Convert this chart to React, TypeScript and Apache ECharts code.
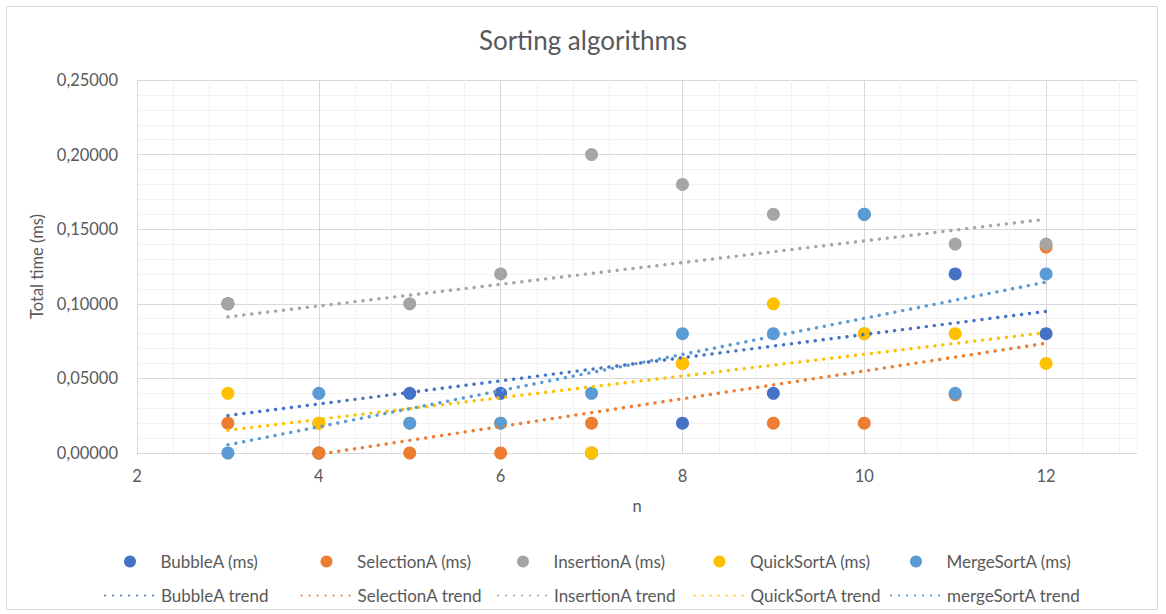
import React, { useEffect, useRef } from "react";
import * as echarts from "echarts";

// ---- data ----
const nValues = [3, 4, 5, 6, 7, 8, 9, 10, 11, 12];
const bubbleMs = [0.1, 0.0, 0.04, 0.04, 0.0, 0.02, 0.04, 0.16, 0.12, 0.08];
const selectionMs = [0.02, 0.0, 0.0, 0.0, 0.02, 0.06, 0.02, 0.02, 0.039, 0.138];
const insertionMs = [0.1, 0.02, 0.1, 0.12, 0.2, 0.18, 0.16, 0.08, 0.14, 0.14];
const quickSortMs = [0.04, 0.02, 0.02, 0.02, 0.0, 0.06, 0.1, 0.08, 0.08, 0.06];
const mergeSortMs = [0.0, 0.04, 0.02, 0.02, 0.04, 0.08, 0.08, 0.16, 0.04, 0.12];

const pointNames = ["BubbleA (ms)", "SelectionA (ms)", "InsertionA (ms)", "QuickSortA (ms)", "MergeSortA (ms)"];
const trendNames = ["BubbleA trend", "SelectionA trend", "InsertionA trend", "QuickSortA trend", "mergeSortA trend"];
const allValues = [bubbleMs, selectionMs, insertionMs, quickSortMs, mergeSortMs];
const colors = ["#4472C4", "#ED7D31", "#A5A5A5", "#FFC000", "#5B9BD5"];

const FONT = "Lato, 'Noto Sans', sans-serif";
const TEXT = "#595959";

function trendEnds(xs: number[], ys: number[]) {
  const n = xs.length;
  const mx = xs.reduce((a, b) => a + b, 0) / n;
  const my = ys.reduce((a, b) => a + b, 0) / n;
  let sxy = 0;
  let sxx = 0;
  for (let i = 0; i < n; i++) {
    sxy += (xs[i] - mx) * (ys[i] - my);
    sxx += (xs[i] - mx) * (xs[i] - mx);
  }
  const slope = sxy / sxx;
  const x0 = Math.min(...xs);
  const x1 = Math.max(...xs);
  return [
    [x0, my + slope * (x0 - mx)],
    [x1, my + slope * (x1 - mx)],
  ];
}

export default function App() {
  const ref = useRef<HTMLDivElement>(null);
  useEffect(() => {
    document.body.style.margin = "0";
    const chart = echarts.init(ref.current!, undefined, { renderer: "svg" });

    const major = "#D9D9D9";
    const minor = "#F2F2F2";
    const gridColors = [major, minor, minor, minor, minor];

    const scatterSeries = pointNames.map((name, i) => ({
      name,
      type: "scatter",
      symbol: "circle",
      symbolSize: 13,
      itemStyle: { color: colors[i], opacity: 1 },
      data: nValues.map((x, j) => [x, allValues[i][j]]),
      z: 2,
    }));
    const trendSeries = trendNames.map((name, i) => ({
      name,
      type: "line",
      symbol: "none",
      clip: true,
      lineStyle: { color: colors[i], width: 3.4, type: [0.1, 7.9], cap: "round" },
      itemStyle: { color: colors[i] },
      data: trendEnds(nValues, allValues[i]),
      z: 3,
    }));

    const textStarts = [161, 357.5, 554, 750.5, 947];
    const legends: any[] = [];
    pointNames.forEach((name, i) => {
      legends.push({
        data: [{ name, icon: "circle" }],
        left: textStarts[i] - 37,
        top: 553,
        padding: 0,
        itemWidth: 51,
        itemHeight: 12,
        textStyle: { fontFamily: FONT, fontSize: 17, color: TEXT },
      });
    });
    trendNames.forEach((name, i) => {
      legends.push({
        data: [name],
        left: textStarts[i] - 57,
        top: 587,
        padding: 0,
        itemWidth: 51,
        itemHeight: 12,
        itemStyle: { opacity: 0 },
        textStyle: { fontFamily: FONT, fontSize: 17, color: TEXT },
      });
    });

    chart.setOption({
      animation: false,
      backgroundColor: "#ffffff",
      title: {
        text: "Sorting algorithms",
        left: "center",
        top: 22,
        textStyle: { fontFamily: FONT, fontSize: 26, fontWeight: "normal", color: TEXT },
      },
      graphic: [
        {
          type: "rect",
          shape: { x: 6.5, y: 6.5, width: 1151, height: 603 },
          style: { fill: "none", stroke: "#D9D9D9", lineWidth: 1 },
          silent: true,
        },
      ],
      legend: legends,
      grid: { left: 137, top: 80, width: 1000, height: 373, containLabel: false },
      xAxis: {
        type: "value",
        min: 2,
        max: 13,
        interval: 0.4,
        name: "n",
        nameLocation: "middle",
        nameGap: 44,
        nameTextStyle: { fontFamily: FONT, fontSize: 16.5, color: TEXT },
        axisLine: { show: true, lineStyle: { color: major } },
        axisTick: { show: false },
        axisLabel: {
          margin: 14,
          fontFamily: FONT,
          fontSize: 16.5,
          color: TEXT,
          showMaxLabel: false,
          formatter: (v: number, idx: number) => (idx % 5 === 0 ? String(Math.round(v)) : ""),
        },
        splitLine: { show: true, lineStyle: { color: gridColors, width: 1 } },
      },
      yAxis: {
        type: "value",
        min: 0,
        max: 0.25,
        interval: 0.01,
        name: "Total time (ms)",
        nameLocation: "middle",
        nameGap: 79,
        nameTextStyle: { fontFamily: FONT, fontSize: 16.5, color: TEXT },
        axisLine: { show: false },
        axisTick: { show: false },
        axisLabel: {
          margin: 19,
          fontFamily: FONT,
          fontSize: 16.5,
          color: TEXT,
          formatter: (v: number, idx: number) => (idx % 5 === 0 ? v.toFixed(5).replace(".", ",") : ""),
        },
        splitLine: { show: true, lineStyle: { color: gridColors, width: 1 } },
      },
      series: [...scatterSeries, ...trendSeries],
    });
    return () => chart.dispose();
  }, []);
  return <div ref={ref} style={{ width: 1166, height: 614 }} />;
}
